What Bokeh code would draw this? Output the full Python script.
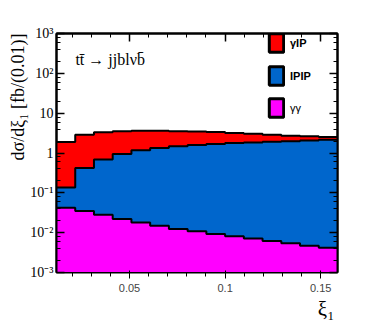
import numpy as np
from bokeh.plotting import figure
from bokeh.models import (Range1d, LinearAxis, LogAxis, SingleIntervalTicker, LogTicker,
                          CustomJSTickFormatter, Title, Label, Legend, LegendItem)
from bokeh.embed import file_html
from bokeh.resources import INLINE

# ---- data ----
xi_edges = [0.0118, 0.0216, 0.0314, 0.0412, 0.0510, 0.0608, 0.0706, 0.0804,
            0.0902, 0.1000, 0.1098, 0.1196, 0.1294, 0.1392, 0.1490, 0.1588]
gamma_gamma = [0.042, 0.035, 0.028, 0.022, 0.018, 0.015, 0.0124, 0.0109,
               0.0093, 0.0081, 0.0071, 0.0062, 0.0054, 0.0047, 0.0042]
pom_pom = [0.095, 0.385, 0.66, 0.92, 1.15, 1.32, 1.46, 1.58,
           1.67, 1.77, 1.83, 1.90, 1.98, 2.05, 2.14]
gamma_pom = [1.74, 2.46, 2.61, 2.56, 2.43, 2.26, 2.03, 1.86,
             1.68, 1.42, 1.21, 0.97, 0.74, 0.59, 0.36]
labels = ["γIP", "IPIP", "γγ"]
colors = ["#FF0000", "#0066CC", "#FF00FF"]

edges = np.array(xi_edges)
s_gg = np.array(gamma_gamma)
s_pp = s_gg + np.array(pom_pom)
s_all = s_pp + np.array(gamma_pom)

def ext(v):
    return np.append(v, v[-1])

SERIF = "Liberation Serif"

p = figure(width=370, height=320, output_backend="svg", toolbar_location=None,
           y_axis_type="log", x_range=Range1d(xi_edges[0], xi_edges[-1]),
           y_range=Range1d(1e-3, 1e3),
           min_border_left=56, min_border_right=33, min_border_top=33, min_border_bottom=42)
p.grid.visible = False
p.outline_line_color = "black"
p.outline_line_width = 2
p.background_fill_color = "white"

base = 1e-3
for top, c in zip([s_all, s_pp, s_gg], colors):
    p.varea_step(x=edges, y1=np.full(len(edges), base), y2=ext(top),
                 step_mode="after", fill_color=c)
for top in [s_all, s_pp, s_gg]:
    p.step(x=edges, y=ext(top), mode="after", line_color="black", line_width=2)

# axes styling
xt = SingleIntervalTicker(interval=0.05, num_minor_ticks=5)
xfmt = CustomJSTickFormatter(code="return String(Math.round(tick*100)/100);")
yt = LogTicker(mantissas=[1], desired_num_ticks=7)
yfmt = CustomJSTickFormatter(code="""
const e = Math.round(Math.log10(tick));
const sup = {"-3":"\u207b\u00b3","-2":"\u207b\u00b2","-1":"\u207b\u00b9","2":"\u00b2","3":"\u00b3"};
if (e == 0) return "1";
if (e == 1) return "10";
return "10" + sup[String(e)];
""")
blank = CustomJSTickFormatter(code="return ' ';")

for ax in p.xaxis:
    ax.ticker = xt
    ax.formatter = xfmt
for ax in p.yaxis:
    ax.ticker = yt
    ax.formatter = yfmt

top_ax = LinearAxis(ticker=SingleIntervalTicker(interval=0.05, num_minor_ticks=5),
                    formatter=blank, major_label_text_alpha=0,
                    major_label_text_font_size="1px", major_label_standoff=0)
right_ax = LogAxis(ticker=LogTicker(mantissas=[1], desired_num_ticks=7),
                   formatter=blank, major_label_text_alpha=0,
                   major_label_text_font_size="1px", major_label_standoff=0)
p.add_layout(top_ax, "above")
p.add_layout(right_ax, "right")

for ax in [p.xaxis[0], p.yaxis[0], top_ax, right_ax]:
    ax.axis_line_color = "black"
    ax.axis_line_width = 2
    ax.major_tick_in = 8
    ax.major_tick_out = 0
    ax.minor_tick_in = 4
    ax.minor_tick_out = 0
    ax.major_tick_line_color = "black"
    ax.minor_tick_line_color = "black"
    ax.major_tick_line_width = 1.5
    ax.minor_tick_line_width = 1
for ax in [p.xaxis[0], p.yaxis[0]]:
    ax.major_label_text_font = SERIF
    ax.major_label_text_font_size = "14px"
    ax.major_label_text_color = "black"
p.xaxis[0].major_label_standoff = 4
p.yaxis[0].major_label_standoff = 3

# axis titles
p.add_layout(Title(text="ξ\u2081", align="right", text_font=SERIF, text_font_size="21px",
                   text_font_style="normal", text_color="black", standoff=0, offset=3),
             "below")
p.add_layout(Title(text="dσ/dξ\u2081 [fb/(0.01)]", align="right", text_font=SERIF,
                   text_font_size="18px", text_font_style="normal", text_color="black",
                   standoff=0), "left")

# process label
p.add_layout(Label(x=0.0217, y=218, text="tt\u0304 \u2192 jjblνb\u0304", text_font=SERIF,
                   text_font_size="16px", text_baseline="middle", text_color="black"))

# legend (legend-only renderers placed outside the visible x range)
dummies = [p.quad(left=[1.0], right=[1.1], top=[1.0], bottom=[0.1], fill_color=c,
                  line_color="black", line_width=3) for c in colors]
common = dict(glyph_width=18, glyph_height=23, label_height=23, spacing=10, padding=0,
              margin=0, label_standoff=5, label_text_font="Liberation Sans",
              label_text_font_size="11px", label_text_color="black",
              border_line_color=None, background_fill_alpha=0)
leg1 = Legend(items=[LegendItem(label=labels[0], renderers=[dummies[0]]),
                     LegendItem(label=labels[1], renderers=[dummies[1]])],
              location=(211, 185), label_text_font_style="bold", **common)
leg2 = Legend(items=[LegendItem(label=labels[2], renderers=[dummies[2]])],
              location=(211, 153), label_text_font_style="normal", **common)
p.add_layout(leg1)
p.add_layout(leg2)

open("out.html", "w", encoding="utf-8").write(file_html(p, INLINE))
